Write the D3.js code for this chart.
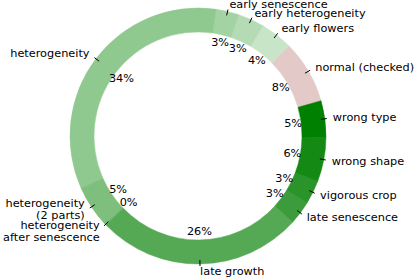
<!DOCTYPE html>
<html>
<head>
<meta charset="utf-8">
<script src="https://cdn.jsdelivr.net/npm/d3@7"></script>
<style>
  html, body { margin: 0; padding: 0; background: #fff; }
  svg { display: block; }
</style>
</head>
<body>
<svg id="chart" width="415" height="278"></svg>
<script>
// Categories in drawing order (counter-clockwise, starting from "normal (checked)")
const categories = [
  "normal (checked)", "early flowers", "early heterogeneity", "early senescence",
  "heterogeneity", "heterogeneity\n(2 parts)", "heterogeneity\nafter senescence",
  "late growth", "late senescence", "vigorous crop", "wrong shape", "wrong type"
];
// Share of each category in percent
const shares = [8.0, 4.1, 3.3, 2.9, 33.9, 5.4, 0.2, 26.0, 3.0, 3.0, 5.6, 4.6];
const colors = [
  "#e4c9c9", "#c8e5c8", "#b4dbb4", "#a3d3a3", "#8fc98f", "#7ebf7e",
  "#6ab56a", "#55a955", "#3c9c3c", "#2a932a", "#148a14", "#008000"
];

const width = 415, height = 278;
const cx = 198, cy = 136;
const outerR = 128, innerR = 104;
const tickR0 = 124, tickR1 = 130, labelR = 136, pctR = 96;
const startDeg = 74; // d3 angle (clockwise from 12 o'clock) where the first slice begins
const fontSize = 11.3;
const lineH = 12;

const svg = d3.select("#chart");
const g = svg.append("g").attr("transform", `translate(${cx},${cy})`);

const data = categories.map((c, i) => ({ name: c, value: shares[i], color: colors[i] }));

const pie = d3.pie()
  .value(d => d.value)
  .sort(null)
  .startAngle(startDeg * Math.PI / 180)
  .endAngle((startDeg - 360) * Math.PI / 180);

const arcs = pie(data);
const arc = d3.arc().innerRadius(innerR).outerRadius(outerR);

g.selectAll("path.slice")
  .data(arcs)
  .join("path")
  .attr("class", "slice")
  .attr("d", arc)
  .attr("fill", d => d.data.color)
  .attr("stroke", d => d.data.color)
  .attr("stroke-width", 0.5);

function midAngle(d) { return (d.startAngle + d.endAngle) / 2; }
// d3 angle a: x = sin(a), y = -cos(a)
function pt(a, r) { return [Math.sin(a) * r, -Math.cos(a) * r]; }

// tick lines
g.selectAll("line.tick")
  .data(arcs)
  .join("line")
  .attr("class", "tick")
  .attr("x1", d => pt(midAngle(d), tickR0)[0])
  .attr("y1", d => pt(midAngle(d), tickR0)[1])
  .attr("x2", d => pt(midAngle(d), tickR1)[0])
  .attr("y2", d => pt(midAngle(d), tickR1)[1])
  .attr("stroke", "#000")
  .attr("stroke-width", 1);

const font = "DejaVu Sans, Verdana, sans-serif";

// label layout with simple vertical collision avoidance per side
const lab = arcs.map(d => {
  const a = midAngle(d);
  const p = pt(a, labelR);
  const lines = d.data.name.split("\n");
  return { d, x: p[0], y: p[1], lines, h: lines.length * lineH - 1.5, right: Math.sin(a) >= 0 };
});
[true, false].forEach(side => {
  const s = lab.filter(l => l.right === side).sort((a, b) => a.y - b.y);
  for (let it = 0; it < 20; it++) {
    for (let i = 1; i < s.length; i++) {
      const need = (s[i - 1].h + s[i].h) / 2;
      const gap = s[i].y - s[i - 1].y;
      if (gap < need) {
        const push = (need - gap) / 2;
        s[i - 1].y -= push;
        s[i].y += push;
      }
    }
  }
  // keep inside the picture
  s.forEach(l => {
    const top = cy + l.y - l.h / 2;
    if (top < -1) l.y += -1 - top;
  });
});

const labels = g.selectAll("text.label")
  .data(lab)
  .join("text")
  .attr("class", "label")
  .attr("font-family", font)
  .attr("font-size", fontSize)
  .attr("fill", "#000")
  .attr("text-anchor", l => l.right ? "start" : "end")
  .attr("transform", l => `translate(${l.x},${l.y})`);

labels.each(function(l) {
  const t = d3.select(this);
  const off = -(l.lines.length - 1) * lineH / 2;
  l.lines.forEach((ln, i) => {
    t.append("tspan")
      .attr("x", 0)
      .attr("y", off + i * lineH)
      .attr("dominant-baseline", "central")
      .text(ln);
  });
});

// percentage labels
g.selectAll("text.pct")
  .data(arcs)
  .join("text")
  .attr("class", "pct")
  .attr("font-family", font)
  .attr("font-size", fontSize)
  .attr("fill", "#000")
  .attr("text-anchor", "middle")
  .attr("dominant-baseline", "central")
  .attr("x", d => pt(midAngle(d), pctR)[0])
  .attr("y", d => pt(midAngle(d), pctR)[1])
  .text(d => Math.round(d.data.value) + "%");
</script>
</body>
</html>
